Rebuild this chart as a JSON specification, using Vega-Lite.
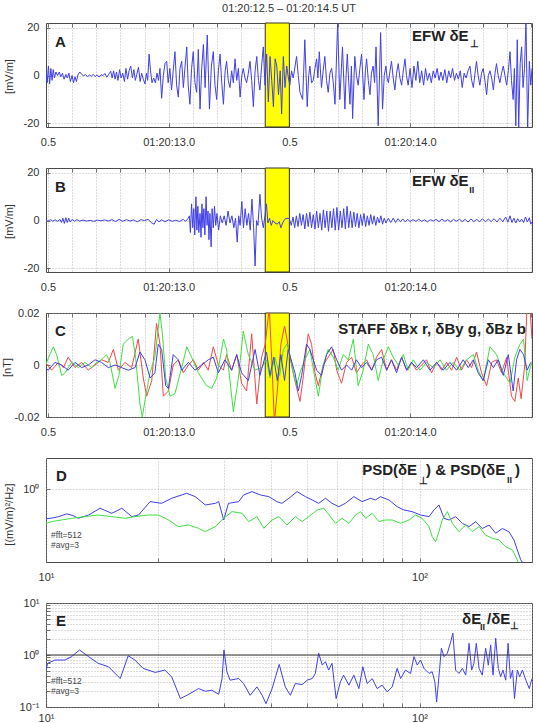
{
"$schema": "https://vega.github.io/schema/vega-lite/v6.json",
"padding": {"left": 0, "top": 2, "right": 0, "bottom": 0},
"background": "white",
"spacing": 41,
"bounds": "flush",
"resolve": {"scale": {"color": "independent"}},
"config": {
 "font": "Liberation Sans",
 "view": {"stroke": "#4a4a4a", "strokeWidth": 1},
 "axis": {"domain": false, "tickColor": "#555", "tickSize": -4, "tickWidth": 0.8, "gridColor": "#aaa", "gridDash": [1,2], "gridWidth": 0.8, "labelFont": "Liberation Sans", "labelFontSize": 11, "labelColor": "#333", "labelFlush": false, "labelOverlap": false, "titleFont": "Liberation Sans", "titleFontSize": 11, "titleFontWeight": "normal", "titleColor": "#333"},
 "axisX": {"labelPadding": 13},
 "axisY": {"labelPadding": 11},
 "title": {"font": "Liberation Sans"}
},
"datasets": {
 "one": [{}],
 "a": [
{"t":12.492,"v":2},{"t":12.497,"v":-3},{"t":12.502,"v":4},{"t":12.507,"v":-3.5},{"t":12.512,"v":3},{"t":12.517,"v":-2},{"t":12.522,"v":2.5},{"t":12.527,"v":-1},{"t":12.533,"v":1.5},{"t":12.54,"v":0},{"t":12.547,"v":1.5},{"t":12.553,"v":-0.5},{"t":12.56,"v":1},{"t":12.567,"v":-1.5},{"t":12.574,"v":0.5},{"t":12.58,"v":-1},{"t":12.587,"v":1},{"t":12.593,"v":-2.5},{"t":12.6,"v":0},{"t":12.606,"v":-3},{"t":12.612,"v":-0.5},{"t":12.618,"v":-2.5},{"t":12.625,"v":0.5},{"t":12.632,"v":1.5},{"t":12.64,"v":0.5},{"t":12.648,"v":0},{"t":12.656,"v":0.4},{"t":12.664,"v":-0.4},{"t":12.672,"v":0.2},{"t":12.68,"v":-0.2},{"t":12.688,"v":0.5},{"t":12.696,"v":-0.4},{"t":12.704,"v":0.3},{"t":12.712,"v":-0.6},{"t":12.72,"v":0.4},{"t":12.728,"v":0},{"t":12.736,"v":0.9},{"t":12.744,"v":-0.7},{"t":12.752,"v":0.6},{"t":12.76,"v":1.8},{"t":12.766,"v":-1},{"t":12.772,"v":2},{"t":12.778,"v":-1.5},{"t":12.784,"v":1.5},{"t":12.79,"v":-2},{"t":12.797,"v":2.5},{"t":12.803,"v":-1},{"t":12.81,"v":1},{"t":12.817,"v":-2.5},{"t":12.823,"v":3},{"t":12.83,"v":-1.5},{"t":12.836,"v":2},{"t":12.843,"v":4},{"t":12.85,"v":-1},{"t":12.856,"v":2.5},{"t":12.862,"v":-2},{"t":12.868,"v":0.5},{"t":12.875,"v":3.5},{"t":12.882,"v":-2.5},{"t":12.888,"v":1},
{"t":12.895,"v":-1.5},{"t":12.902,"v":-3.5},{"t":12.908,"v":1},{"t":12.913,"v":-2},{"t":12.919,"v":9},{"t":12.925,"v":2},{"t":12.931,"v":-3},{"t":12.938,"v":-1},{"t":12.945,"v":-3},{"t":12.952,"v":1},{"t":12.958,"v":-2},{"t":12.964,"v":3},{"t":12.971,"v":-9.5},{"t":12.978,"v":0},{"t":12.985,"v":5},{"t":12.992,"v":6},{"t":12.998,"v":-3},{"t":13.005,"v":3},{"t":13.012,"v":-6},{"t":13.019,"v":2},{"t":13.026,"v":10},{"t":13.033,"v":-4},{"t":13.04,"v":-9},{"t":13.047,"v":3},{"t":13.054,"v":6},{"t":13.061,"v":-5},{"t":13.068,"v":4},{"t":13.075,"v":12},{"t":13.081,"v":-4},{"t":13.088,"v":-12},{"t":13.095,"v":3},{"t":13.102,"v":10},{"t":13.109,"v":-3},{"t":13.116,"v":-7},{"t":13.123,"v":11},{"t":13.13,"v":-14},{"t":13.137,"v":3},{"t":13.144,"v":13},{"t":13.151,"v":-5},{"t":13.16,"v":17},{"t":13.169,"v":-14},{"t":13.177,"v":4},{"t":13.185,"v":10},{"t":13.192,"v":-4},{"t":13.199,"v":-10},{"t":13.206,"v":2},{"t":13.213,"v":9},{"t":13.22,"v":-3},{"t":13.227,"v":-12},{"t":13.234,"v":2},{"t":13.24,"v":6},{"t":13.247,"v":-2},{"t":13.254,"v":-5},{"t":13.261,"v":2},{"t":13.268,"v":-3},{"t":13.275,"v":7},{"t":13.282,"v":-2},{"t":13.289,"v":3},{"t":13.296,"v":-9},{"t":13.303,"v":0},{"t":13.309,"v":3},{"t":13.316,"v":-1},{"t":13.323,"v":-3},{"t":13.33,"v":1},{"t":13.337,"v":6},{"t":13.344,"v":-2},{"t":13.351,"v":-13},{"t":13.358,"v":2},{"t":13.365,"v":8},{"t":13.372,"v":-2},{"t":13.378,"v":-6},{"t":13.385,"v":4},{"t":13.392,"v":12},{"t":13.399,"v":-4},
{"t":13.406,"v":9},{"t":13.413,"v":-11},{"t":13.42,"v":8},{"t":13.427,"v":-2},{"t":13.434,"v":-13},{"t":13.441,"v":7},{"t":13.448,"v":4},{"t":13.455,"v":-8},{"t":13.462,"v":2},{"t":13.468,"v":-16},{"t":13.475,"v":8},{"t":13.482,"v":-5},{"t":13.489,"v":4},{"t":13.496,"v":-1},
{"t":13.502,"v":-4},{"t":13.509,"v":2},{"t":13.516,"v":-1},{"t":13.53,"v":8},{"t":13.537,"v":0},{"t":13.544,"v":-7},{"t":13.555,"v":-10},{"t":13.564,"v":15},{"t":13.574,"v":-13},{"t":13.58,"v":0},{"t":13.585,"v":4},{"t":13.592,"v":-3},{"t":13.599,"v":-2},{"t":13.606,"v":3},{"t":13.613,"v":7},{"t":13.618,"v":-1},{"t":13.624,"v":10},{"t":13.633,"v":-5},{"t":13.64,"v":2},{"t":13.647,"v":8},{"t":13.654,"v":-2},{"t":13.661,"v":-7},{"t":13.668,"v":1},{"t":13.675,"v":3},{"t":13.682,"v":-3},{"t":13.689,"v":-12},{"t":13.7,"v":22},{"t":13.709,"v":-10},{"t":13.715,"v":2},{"t":13.72,"v":12},{"t":13.73,"v":-14},{"t":13.735,"v":0},{"t":13.74,"v":9},{"t":13.746,"v":-3},{"t":13.751,"v":-12},{"t":13.757,"v":4},{"t":13.762,"v":-18},{"t":13.771,"v":8},{"t":13.778,"v":0},{"t":13.785,"v":-4},{"t":13.792,"v":3},{"t":13.799,"v":9},{"t":13.804,"v":0},{"t":13.809,"v":-10},{"t":13.815,"v":2},{"t":13.82,"v":7},{"t":13.827,"v":-2},{"t":13.834,"v":-8},{"t":13.84,"v":1},{"t":13.847,"v":4},{"t":13.853,"v":-3},{"t":13.859,"v":12},{"t":13.868,"v":-21},{"t":13.878,"v":18},{"t":13.886,"v":-14},{"t":13.893,"v":0},{"t":13.9,"v":4},{"t":13.905,"v":-1},{"t":13.91,"v":-3},{"t":13.917,"v":2},{"t":13.923,"v":6},{"t":13.93,"v":-1},{"t":13.937,"v":-6},{"t":13.944,"v":1},{"t":13.951,"v":5},{"t":13.958,"v":-1},{"t":13.965,"v":-4},{"t":13.972,"v":2},{"t":13.979,"v":7},{"t":13.985,"v":0},{"t":13.992,"v":-4},
{"t":14.0,"v":3},{"t":14.008,"v":-5},{"t":14.016,"v":4},{"t":14.024,"v":-2},{"t":14.032,"v":6},{"t":14.04,"v":-3},{"t":14.048,"v":2},{"t":14.056,"v":-4},{"t":14.064,"v":3},{"t":14.072,"v":-2},{"t":14.08,"v":1},{"t":14.088,"v":-3},{"t":14.096,"v":2},{"t":14.104,"v":-1},{"t":14.112,"v":3},{"t":14.12,"v":-2},{"t":14.128,"v":1.5},{"t":14.136,"v":-2},{"t":14.144,"v":2.5},{"t":14.152,"v":-3},{"t":14.16,"v":2},{"t":14.168,"v":-1},{"t":14.176,"v":3},{"t":14.184,"v":-2},{"t":14.192,"v":1},{"t":14.2,"v":-1.5},{"t":14.208,"v":2},{"t":14.216,"v":-5},{"t":14.224,"v":1},{"t":14.232,"v":-1},{"t":14.24,"v":2},{"t":14.248,"v":4},{"t":14.255,"v":-2},{"t":14.262,"v":-5},{"t":14.269,"v":1},{"t":14.275,"v":6},{"t":14.282,"v":0},{"t":14.289,"v":-4},{"t":14.296,"v":1},{"t":14.303,"v":3},{"t":14.31,"v":-2},{"t":14.317,"v":-8},{"t":14.324,"v":0},{"t":14.331,"v":2},{"t":14.338,"v":-1},{"t":14.345,"v":-6},{"t":14.352,"v":1},{"t":14.358,"v":5},{"t":14.365,"v":0},{"t":14.372,"v":-3},{"t":14.379,"v":1},{"t":14.386,"v":4},{"t":14.393,"v":0},{"t":14.4,"v":-4},{"t":14.407,"v":2},{"t":14.414,"v":10},{"t":14.42,"v":-2},{"t":14.427,"v":-10},{"t":14.432,"v":3},{"t":14.438,"v":-21},{"t":14.444,"v":15},{"t":14.45,"v":-22},{"t":14.456,"v":5},{"t":14.462,"v":12},{"t":14.468,"v":-5},{"t":14.474,"v":3},{"t":14.48,"v":23},{"t":14.487,"v":-23},{"t":14.494,"v":6},{"t":14.5,"v":-4},{"t":14.505,"v":3}
 ],
 "b": [
{"t":12.492,"v":0.3},{"t":12.5,"v":-0.3},{"t":12.51,"v":0.4},{"t":12.52,"v":-0.2},{"t":12.53,"v":0.3},{"t":12.54,"v":-0.3},{"t":12.55,"v":0.5},{"t":12.556,"v":-0.8},{"t":12.562,"v":1},{"t":12.568,"v":-1.2},{"t":12.574,"v":1.2},{"t":12.58,"v":-0.8},{"t":12.586,"v":1},{"t":12.592,"v":-0.6},{"t":12.6,"v":0.5},{"t":12.61,"v":-0.3},{"t":12.62,"v":0.4},{"t":12.63,"v":-0.2},{"t":12.645,"v":0.2},{"t":12.66,"v":-0.2},{"t":12.675,"v":0.1},{"t":12.69,"v":-0.3},{"t":12.705,"v":0.2},{"t":12.72,"v":-0.1},{"t":12.735,"v":0.3},{"t":12.75,"v":-0.2},{"t":12.765,"v":0.4},{"t":12.78,"v":-0.4},{"t":12.795,"v":0.5},{"t":12.81,"v":-0.3},{"t":12.825,"v":0.4},{"t":12.84,"v":-0.2},{"t":12.855,"v":0.3},{"t":12.87,"v":-0.5},{"t":12.885,"v":0.4},{"t":12.9,"v":0},{"t":12.915,"v":0.5},{"t":12.93,"v":-1},{"t":12.94,"v":-1.5},{"t":12.95,"v":0.5},{"t":12.96,"v":-0.5},{"t":12.97,"v":0.3},{"t":12.985,"v":-0.4},{"t":13.0,"v":0.3},{"t":13.015,"v":-0.3},{"t":13.03,"v":0.2},{"t":13.045,"v":-0.4},{"t":13.06,"v":0.5},{"t":13.07,"v":-0.3},{"t":13.08,"v":0.8},
{"t":13.086,"v":2},{"t":13.09,"v":-5},{"t":13.095,"v":7},{"t":13.1,"v":-3},{"t":13.104,"v":5},{"t":13.108,"v":-6},{"t":13.113,"v":10},{"t":13.117,"v":-4},{"t":13.121,"v":6},{"t":13.125,"v":-5},{"t":13.13,"v":3},{"t":13.134,"v":-7},{"t":13.138,"v":7},{"t":13.142,"v":-3},{"t":13.146,"v":5},{"t":13.15,"v":-6},{"t":13.155,"v":10},{"t":13.159,"v":-2},{"t":13.163,"v":4},{"t":13.167,"v":-8},{"t":13.171,"v":3},{"t":13.176,"v":-11},{"t":13.18,"v":5},{"t":13.185,"v":-3},{"t":13.19,"v":6},{"t":13.195,"v":-2},{"t":13.2,"v":3},{"t":13.207,"v":-4},{"t":13.214,"v":2},{"t":13.222,"v":-1},{"t":13.23,"v":2},{"t":13.238,"v":-2},{"t":13.246,"v":4},{"t":13.254,"v":-1},{"t":13.262,"v":2},{"t":13.27,"v":-3},{"t":13.277,"v":1},{"t":13.284,"v":-9},{"t":13.29,"v":2},{"t":13.296,"v":-2},{"t":13.303,"v":8},{"t":13.31,"v":-3},{"t":13.317,"v":5},{"t":13.324,"v":-2},{"t":13.331,"v":3},{"t":13.338,"v":-4},{"t":13.345,"v":9},{"t":13.352,"v":-3},{"t":13.358,"v":-19},{"t":13.364,"v":0},{"t":13.37,"v":-2},{"t":13.378,"v":11},{"t":13.385,"v":1},{"t":13.392,"v":-3},{"t":13.399,"v":2},{"t":13.405,"v":7},{"t":13.411,"v":-1},{"t":13.418,"v":1},{"t":13.425,"v":-2},{"t":13.432,"v":0},{"t":13.44,"v":-1},{"t":13.45,"v":-1.5},{"t":13.458,"v":-0.5},{"t":13.465,"v":-3},{"t":13.472,"v":-1},{"t":13.48,"v":0.5},{"t":13.49,"v":1},{"t":13.5,"v":0.8},
{"t":13.508,"v":-2},{"t":13.515,"v":1.5},{"t":13.522,"v":-3},{"t":13.529,"v":2},{"t":13.536,"v":-2.5},{"t":13.543,"v":3},{"t":13.55,"v":-2},{"t":13.557,"v":2.5},{"t":13.564,"v":-3.5},{"t":13.571,"v":3},{"t":13.578,"v":-2.5},{"t":13.585,"v":3.5},{"t":13.592,"v":-3},{"t":13.599,"v":2.5},{"t":13.606,"v":-3.5},{"t":13.613,"v":4},{"t":13.62,"v":-3},{"t":13.627,"v":3},{"t":13.634,"v":-4},{"t":13.641,"v":4.5},{"t":13.648,"v":-3},{"t":13.655,"v":4},{"t":13.662,"v":-4.5},{"t":13.669,"v":4},{"t":13.676,"v":-3},{"t":13.683,"v":5},{"t":13.69,"v":-4},{"t":13.697,"v":5.5},{"t":13.704,"v":-4},{"t":13.711,"v":4},{"t":13.718,"v":-3},{"t":13.725,"v":5},{"t":13.732,"v":-3.5},{"t":13.739,"v":6},{"t":13.746,"v":-3},{"t":13.753,"v":4},{"t":13.76,"v":-3},{"t":13.767,"v":3.5},{"t":13.774,"v":-2.5},{"t":13.781,"v":3},{"t":13.788,"v":-3},{"t":13.795,"v":2.5},{"t":13.802,"v":-2},{"t":13.809,"v":3},{"t":13.816,"v":-2.5},{"t":13.823,"v":2},{"t":13.83,"v":-2},{"t":13.837,"v":2.5},{"t":13.844,"v":-1.5},{"t":13.851,"v":2},{"t":13.858,"v":-2},{"t":13.865,"v":1.5},{"t":13.872,"v":-1},{"t":13.879,"v":2},{"t":13.886,"v":-1.5},{"t":13.893,"v":1},{"t":13.9,"v":-1},{"t":13.91,"v":1},{"t":13.92,"v":-0.8},{"t":13.93,"v":1},{"t":13.94,"v":-0.8},{"t":13.95,"v":0.8},{"t":13.96,"v":-0.5},{"t":13.97,"v":0.7},{"t":13.98,"v":-0.5},{"t":13.99,"v":0.5},{"t":14.0,"v":-0.4},{"t":14.012,"v":0.4},{"t":14.024,"v":-0.3},{"t":14.036,"v":0.5},{"t":14.048,"v":-0.3},{"t":14.06,"v":0.3},{"t":14.072,"v":-0.5},{"t":14.084,"v":0.4},{"t":14.096,"v":-0.2},{"t":14.108,"v":0.5},{"t":14.12,"v":-0.4},{"t":14.132,"v":0.6},{"t":14.144,"v":-0.3},{"t":14.156,"v":0.4},{"t":14.168,"v":-0.5},{"t":14.18,"v":0.5},{"t":14.192,"v":-0.3},{"t":14.204,"v":0.6},{"t":14.216,"v":-0.4},{"t":14.228,"v":0.5},{"t":14.24,"v":-0.6},{"t":14.252,"v":0.7},{"t":14.264,"v":-0.4},{"t":14.276,"v":0.5},{"t":14.288,"v":-0.5},{"t":14.3,"v":0.8},{"t":14.312,"v":-0.5},{"t":14.324,"v":0.6},{"t":14.336,"v":-0.4},{"t":14.348,"v":0.8},{"t":14.36,"v":-0.6},{"t":14.372,"v":1},{"t":14.384,"v":-0.5},{"t":14.396,"v":1.5},{"t":14.405,"v":-0.6},{"t":14.414,"v":2},{"t":14.422,"v":-0.8},{"t":14.43,"v":1},{"t":14.438,"v":-1},{"t":14.446,"v":0.8},{"t":14.454,"v":-0.5},{"t":14.462,"v":0.6},{"t":14.47,"v":-0.8},{"t":14.478,"v":1.5},{"t":14.486,"v":-0.6},{"t":14.494,"v":1.2},{"t":14.5,"v":-1.5},{"t":14.505,"v":-0.5}
 ],
 "c": [
{"t":12.49,"s":"x","v":0.001},{"t":12.515,"s":"x","v":-0.002},{"t":12.543,"s":"x","v":0.001},{"t":12.564,"s":"x","v":-0.001},{"t":12.584,"s":"x","v":0.003},{"t":12.612,"s":"x","v":-0.001},{"t":12.64,"s":"x","v":0.001},{"t":12.667,"s":"x","v":-0.002},{"t":12.695,"s":"x","v":0},{"t":12.722,"s":"x","v":0.002},{"t":12.75,"s":"x","v":0.001},{"t":12.771,"s":"x","v":0.006},{"t":12.792,"s":"x","v":-0.002},{"t":12.819,"s":"x","v":0.001},{"t":12.847,"s":"x","v":-0.001},{"t":12.874,"s":"x","v":0.01},{"t":12.895,"s":"x","v":-0.005},{"t":12.909,"s":"x","v":-0.012},{"t":12.93,"s":"x","v":-0.006},{"t":12.95,"s":"x","v":0.016},{"t":12.964,"s":"x","v":0.008},{"t":12.978,"s":"x","v":-0.012},{"t":12.999,"s":"x","v":-0.01},{"t":13.019,"s":"x","v":0},{"t":13.04,"s":"x","v":0.002},{"t":13.061,"s":"x","v":-0.003},{"t":13.082,"s":"x","v":0},{"t":13.102,"s":"x","v":0.002},{"t":13.123,"s":"x","v":-0.002},{"t":13.144,"s":"x","v":0.001},{"t":13.164,"s":"x","v":-0.002},{"t":13.185,"s":"x","v":0.007},{"t":13.206,"s":"x","v":0},{"t":13.227,"s":"x","v":-0.002},{"t":13.24,"s":"x","v":0.004},{"t":13.261,"s":"x","v":-0.002},{"t":13.282,"s":"x","v":0.004},{"t":13.302,"s":"x","v":-0.007},{"t":13.323,"s":"x","v":-0.01},{"t":13.344,"s":"x","v":0.012},{"t":13.365,"s":"x","v":-0.015},{"t":13.385,"s":"x","v":0.003},{"t":13.4,"s":"x","v":0.008},{"t":13.417,"s":"x","v":0.022},{"t":13.428,"s":"x","v":0},{"t":13.438,"s":"x","v":-0.022},{"t":13.45,"s":"x","v":-0.01},{"t":13.465,"s":"x","v":0.008},{"t":13.48,"s":"x","v":0.015},{"t":13.49,"s":"x","v":0.01},{"t":13.5,"s":"x","v":0.004},{"t":13.523,"s":"x","v":-0.006},{"t":13.544,"s":"x","v":-0.014},{"t":13.557,"s":"x","v":-0.005},{"t":13.578,"s":"x","v":0.012},{"t":13.592,"s":"x","v":0.008},{"t":13.606,"s":"x","v":-0.003},{"t":13.62,"s":"x","v":-0.008},{"t":13.64,"s":"x","v":0},{"t":13.661,"s":"x","v":0.003},{"t":13.682,"s":"x","v":0.006},{"t":13.696,"s":"x","v":-0.002},{"t":13.716,"s":"x","v":-0.007},{"t":13.737,"s":"x","v":0.001},{"t":13.758,"s":"x","v":0.003},{"t":13.778,"s":"x","v":-0.003},{"t":13.799,"s":"x","v":0},{"t":13.82,"s":"x","v":0.002},{"t":13.841,"s":"x","v":-0.002},{"t":13.861,"s":"x","v":0.003},{"t":13.882,"s":"x","v":0.006},{"t":13.903,"s":"x","v":-0.002},{"t":13.923,"s":"x","v":0.002},{"t":13.944,"s":"x","v":-0.002},{"t":13.965,"s":"x","v":0.003},{"t":13.986,"s":"x","v":-0.002},{"t":14.006,"s":"x","v":0.001},{"t":14.027,"s":"x","v":-0.002},{"t":14.048,"s":"x","v":0},{"t":14.068,"s":"x","v":0.002},{"t":14.089,"s":"x","v":-0.003},{"t":14.11,"s":"x","v":0.001},{"t":14.131,"s":"x","v":-0.002},{"t":14.151,"s":"x","v":0.001},{"t":14.172,"s":"x","v":-0.002},{"t":14.193,"s":"x","v":0.003},{"t":14.213,"s":"x","v":-0.002},{"t":14.234,"s":"x","v":0.002},{"t":14.255,"s":"x","v":-0.001},{"t":14.275,"s":"x","v":0.005},{"t":14.296,"s":"x","v":-0.003},{"t":14.317,"s":"x","v":-0.008},{"t":14.338,"s":"x","v":0.001},{"t":14.358,"s":"x","v":0.002},{"t":14.379,"s":"x","v":-0.003},{"t":14.4,"s":"x","v":0.003},{"t":14.42,"s":"x","v":-0.012},{"t":14.434,"s":"x","v":-0.014},{"t":14.448,"s":"x","v":-0.005},{"t":14.46,"s":"x","v":-0.013},{"t":14.475,"s":"x","v":0},{"t":14.485,"s":"x","v":0.024},{"t":14.495,"s":"x","v":0.024},{"t":14.505,"s":"x","v":0.01},
{"t":12.49,"s":"y","v":0},{"t":12.522,"s":"y","v":0.007},{"t":12.536,"s":"y","v":0.004},{"t":12.557,"s":"y","v":-0.004},{"t":12.571,"s":"y","v":-0.003},{"t":12.598,"s":"y","v":0.001},{"t":12.626,"s":"y","v":-0.001},{"t":12.653,"s":"y","v":0.001},{"t":12.681,"s":"y","v":-0.001},{"t":12.702,"s":"y","v":0.001},{"t":12.722,"s":"y","v":0.002},{"t":12.743,"s":"y","v":0.004},{"t":12.757,"s":"y","v":0.001},{"t":12.778,"s":"y","v":-0.009},{"t":12.794,"s":"y","v":-0.004},{"t":12.812,"s":"y","v":0.008},{"t":12.833,"s":"y","v":0.01},{"t":12.85,"s":"y","v":0.011},{"t":12.863,"s":"y","v":0.003},{"t":12.881,"s":"y","v":-0.015},{"t":12.891,"s":"y","v":-0.02},{"t":12.905,"s":"y","v":-0.012},{"t":12.923,"s":"y","v":-0.003},{"t":12.943,"s":"y","v":0.003},{"t":12.964,"s":"y","v":0.02},{"t":12.974,"s":"y","v":0.012},{"t":12.988,"s":"y","v":-0.005},{"t":13.006,"s":"y","v":-0.012},{"t":13.026,"s":"y","v":-0.011},{"t":13.054,"s":"y","v":-0.001},{"t":13.075,"s":"y","v":0.007},{"t":13.095,"s":"y","v":0.003},{"t":13.123,"s":"y","v":-0.003},{"t":13.157,"s":"y","v":-0.008},{"t":13.178,"s":"y","v":-0.009},{"t":13.199,"s":"y","v":-0.005},{"t":13.227,"s":"y","v":0.01},{"t":13.24,"s":"y","v":0.006},{"t":13.268,"s":"y","v":-0.018},{"t":13.289,"s":"y","v":-0.005},{"t":13.309,"s":"y","v":0.013},{"t":13.33,"s":"y","v":0.004},{"t":13.358,"s":"y","v":-0.002},{"t":13.385,"s":"y","v":-0.001},{"t":13.405,"s":"y","v":0.002},{"t":13.42,"s":"y","v":-0.005},{"t":13.44,"s":"y","v":0.003},{"t":13.46,"s":"y","v":-0.004},{"t":13.475,"s":"y","v":0.006},{"t":13.49,"s":"y","v":0.008},{"t":13.5,"s":"y","v":0.005},{"t":13.516,"s":"y","v":-0.003},{"t":13.53,"s":"y","v":-0.008},{"t":13.544,"s":"y","v":-0.003},{"t":13.564,"s":"y","v":0.002},{"t":13.585,"s":"y","v":0.006},{"t":13.606,"s":"y","v":-0.005},{"t":13.62,"s":"y","v":-0.012},{"t":13.64,"s":"y","v":0},{"t":13.661,"s":"y","v":0.006},{"t":13.682,"s":"y","v":0.003},{"t":13.702,"s":"y","v":-0.002},{"t":13.723,"s":"y","v":0.004},{"t":13.744,"s":"y","v":0.002},{"t":13.765,"s":"y","v":0.01},{"t":13.785,"s":"y","v":-0.008},{"t":13.806,"s":"y","v":-0.002},{"t":13.827,"s":"y","v":0.008},{"t":13.847,"s":"y","v":0.004},{"t":13.868,"s":"y","v":-0.006},{"t":13.889,"s":"y","v":0.002},{"t":13.91,"s":"y","v":0.007},{"t":13.93,"s":"y","v":0.003},{"t":13.951,"s":"y","v":0},{"t":13.972,"s":"y","v":0.004},{"t":13.992,"s":"y","v":-0.002},{"t":14.013,"s":"y","v":0.002},{"t":14.041,"s":"y","v":-0.002},{"t":14.068,"s":"y","v":0.001},{"t":14.096,"s":"y","v":-0.001},{"t":14.124,"s":"y","v":0.002},{"t":14.151,"s":"y","v":-0.002},{"t":14.179,"s":"y","v":0.001},{"t":14.206,"s":"y","v":-0.002},{"t":14.234,"s":"y","v":0.002},{"t":14.262,"s":"y","v":0.004},{"t":14.282,"s":"y","v":-0.002},{"t":14.303,"s":"y","v":-0.006},{"t":14.331,"s":"y","v":0.007},{"t":14.358,"s":"y","v":0.004},{"t":14.386,"s":"y","v":-0.003},{"t":14.414,"s":"y","v":-0.007},{"t":14.434,"s":"y","v":0.003},{"t":14.455,"s":"y","v":0.008},{"t":14.47,"s":"y","v":0.01},{"t":14.485,"s":"y","v":-0.006},{"t":14.495,"s":"y","v":-0.002},{"t":14.505,"s":"y","v":0.001},
{"t":12.49,"s":"z","v":-0.001},{"t":12.501,"s":"z","v":-0.002},{"t":12.529,"s":"z","v":0.001},{"t":12.557,"s":"z","v":0},{"t":12.584,"s":"z","v":-0.002},{"t":12.612,"s":"z","v":0.001},{"t":12.64,"s":"z","v":-0.001},{"t":12.667,"s":"z","v":0},{"t":12.695,"s":"z","v":0.002},{"t":12.722,"s":"z","v":0.001},{"t":12.75,"s":"z","v":-0.001},{"t":12.778,"s":"z","v":0},{"t":12.805,"s":"z","v":-0.001},{"t":12.833,"s":"z","v":-0.002},{"t":12.861,"s":"z","v":-0.001},{"t":12.881,"s":"z","v":0.005},{"t":12.902,"s":"z","v":0.002},{"t":12.923,"s":"z","v":-0.005},{"t":12.943,"s":"z","v":-0.003},{"t":12.957,"s":"z","v":0.008},{"t":12.971,"s":"z","v":0.006},{"t":12.988,"s":"z","v":-0.008},{"t":12.999,"s":"z","v":-0.009},{"t":13.019,"s":"z","v":0.004},{"t":13.04,"s":"z","v":0.002},{"t":13.054,"s":"z","v":-0.002},{"t":13.082,"s":"z","v":0.001},{"t":13.109,"s":"z","v":-0.002},{"t":13.137,"s":"z","v":0},{"t":13.164,"s":"z","v":0.002},{"t":13.185,"s":"z","v":0.003},{"t":13.206,"s":"z","v":-0.003},{"t":13.233,"s":"z","v":0.002},{"t":13.261,"s":"z","v":-0.002},{"t":13.282,"s":"z","v":0.004},{"t":13.302,"s":"z","v":-0.003},{"t":13.33,"s":"z","v":-0.006},{"t":13.358,"s":"z","v":0.006},{"t":13.378,"s":"z","v":-0.004},{"t":13.405,"s":"z","v":0.005},{"t":13.42,"s":"z","v":-0.004},{"t":13.435,"s":"z","v":0.003},{"t":13.45,"s":"z","v":-0.006},{"t":13.465,"s":"z","v":0.004},{"t":13.48,"s":"z","v":-0.006},{"t":13.495,"s":"z","v":0.006},{"t":13.523,"s":"z","v":-0.003},{"t":13.537,"s":"z","v":-0.01},{"t":13.551,"s":"z","v":-0.004},{"t":13.571,"s":"z","v":0.008},{"t":13.585,"s":"z","v":0.006},{"t":13.599,"s":"z","v":0.002},{"t":13.613,"s":"z","v":-0.002},{"t":13.633,"s":"z","v":-0.004},{"t":13.654,"s":"z","v":0.004},{"t":13.675,"s":"z","v":0.007},{"t":13.696,"s":"z","v":0.002},{"t":13.716,"s":"z","v":-0.002},{"t":13.737,"s":"z","v":0},{"t":13.758,"s":"z","v":-0.002},{"t":13.778,"s":"z","v":0.002},{"t":13.799,"s":"z","v":-0.001},{"t":13.82,"s":"z","v":0.001},{"t":13.841,"s":"z","v":-0.002},{"t":13.861,"s":"z","v":0.002},{"t":13.882,"s":"z","v":0.003},{"t":13.903,"s":"z","v":-0.002},{"t":13.923,"s":"z","v":0.002},{"t":13.944,"s":"z","v":-0.003},{"t":13.965,"s":"z","v":0.003},{"t":13.986,"s":"z","v":-0.002},{"t":14.006,"s":"z","v":0.001},{"t":14.027,"s":"z","v":-0.001},{"t":14.055,"s":"z","v":0.002},{"t":14.082,"s":"z","v":-0.002},{"t":14.11,"s":"z","v":0.001},{"t":14.137,"s":"z","v":-0.002},{"t":14.165,"s":"z","v":0.001},{"t":14.193,"s":"z","v":-0.002},{"t":14.22,"s":"z","v":0.002},{"t":14.241,"s":"z","v":-0.001},{"t":14.262,"s":"z","v":0.002},{"t":14.282,"s":"z","v":-0.003},{"t":14.303,"s":"z","v":-0.006},{"t":14.324,"s":"z","v":0.002},{"t":14.345,"s":"z","v":-0.001},{"t":14.365,"s":"z","v":0.002},{"t":14.386,"s":"z","v":-0.004},{"t":14.407,"s":"z","v":0.004},{"t":14.427,"s":"z","v":-0.01},{"t":14.441,"s":"z","v":0.002},{"t":14.455,"s":"z","v":0.006},{"t":14.47,"s":"z","v":0.004},{"t":14.485,"s":"z","v":-0.002},{"t":14.5,"s":"z","v":0.001}
 ],
 "d": [
{"f":10.0,"s":"a","v":0.52},{"f":10.4,"s":"a","v":0.53},{"f":10.8,"s":"a","v":0.546},{"f":11.36,"s":"a","v":0.58},{"f":11.8,"s":"a","v":0.56},{"f":12.2,"s":"a","v":0.526},{"f":13.0,"s":"a","v":0.566},{"f":13.96,"s":"a","v":0.657},{"f":15.0,"s":"a","v":0.588},{"f":15.96,"s":"a","v":0.657},{"f":16.97,"s":"a","v":0.546},{"f":17.69,"s":"a","v":0.566},{"f":19.0,"s":"a","v":0.761},{"f":20.4,"s":"a","v":0.733},{"f":21.7,"s":"a","v":0.82},{"f":23.8,"s":"a","v":0.915},{"f":25.1,"s":"a","v":0.85},{"f":26.7,"s":"a","v":0.707},{"f":28.4,"s":"a","v":0.733},{"f":29.0,"s":"a","v":0.761},{"f":29.9,"s":"a","v":0.507},{"f":30.8,"s":"a","v":0.733},{"f":32.8,"s":"a","v":0.761},{"f":33.8,"s":"a","v":0.882},{"f":35.6,"s":"a","v":0.95},{"f":37.5,"s":"a","v":0.882},{"f":39.5,"s":"a","v":0.85},{"f":41.5,"s":"a","v":0.761},{"f":42.8,"s":"a","v":0.733},{"f":44.7,"s":"a","v":0.82},{"f":47.0,"s":"a","v":0.95},{"f":49.5,"s":"a","v":0.85},{"f":51.6,"s":"a","v":0.79},{"f":53.7,"s":"a","v":0.733},{"f":56.0,"s":"a","v":0.82},{"f":58.3,"s":"a","v":0.733},{"f":60.8,"s":"a","v":0.681},{"f":63.3,"s":"a","v":0.733},{"f":66.7,"s":"a","v":0.85},{"f":70.2,"s":"a","v":0.761},{"f":73.9,"s":"a","v":0.82},{"f":76.2,"s":"a","v":0.79},{"f":78.6,"s":"a","v":0.85},{"f":82.8,"s":"a","v":0.79},{"f":87.1,"s":"a","v":0.681},{"f":90.8,"s":"a","v":0.633},{"f":95.5,"s":"a","v":0.61},{"f":100.6,"s":"a","v":0.566},{"f":106,"s":"a","v":0.546},{"f":109.3,"s":"a","v":0.633},{"f":112.7,"s":"a","v":0.707},{"f":116.3,"s":"a","v":0.526},{"f":120,"s":"a","v":0.507},{"f":124.9,"s":"a","v":0.546},{"f":130.2,"s":"a","v":0.471},{"f":135.7,"s":"a","v":0.438},{"f":141.3,"s":"a","v":0.488},{"f":147.2,"s":"a","v":0.42},{"f":153.5,"s":"a","v":0.453},{"f":159.9,"s":"a","v":0.378},{"f":166.6,"s":"a","v":0.42},{"f":173.6,"s":"a","v":0.39},{"f":179,"s":"a","v":0.325},{"f":182.7,"s":"a","v":0.261},{"f":186.6,"s":"a","v":0.21},{"f":190,"s":"a","v":0.19},
{"f":10.0,"s":"b","v":0.471},{"f":10.4,"s":"b","v":0.49},{"f":11.0,"s":"b","v":0.507},{"f":11.7,"s":"b","v":0.526},{"f":12.7,"s":"b","v":0.546},{"f":13.8,"s":"b","v":0.566},{"f":15.0,"s":"b","v":0.546},{"f":16.3,"s":"b","v":0.526},{"f":17.3,"s":"b","v":0.546},{"f":18.8,"s":"b","v":0.566},{"f":20.0,"s":"b","v":0.566},{"f":21.3,"s":"b","v":0.507},{"f":22.6,"s":"b","v":0.438},{"f":24.1,"s":"b","v":0.454},{"f":25.6,"s":"b","v":0.422},{"f":26.7,"s":"b","v":0.392},{"f":28.4,"s":"b","v":0.438},{"f":29.9,"s":"b","v":0.526},{"f":31.5,"s":"b","v":0.61},{"f":33.5,"s":"b","v":0.588},{"f":34.9,"s":"b","v":0.489},{"f":36.7,"s":"b","v":0.546},{"f":38.3,"s":"b","v":0.422},{"f":40.3,"s":"b","v":0.507},{"f":42.0,"s":"b","v":0.546},{"f":44.2,"s":"b","v":0.454},{"f":46.5,"s":"b","v":0.546},{"f":48.5,"s":"b","v":0.489},{"f":50.5,"s":"b","v":0.546},{"f":53.2,"s":"b","v":0.633},{"f":55.4,"s":"b","v":0.657},{"f":57.7,"s":"b","v":0.546},{"f":59.6,"s":"b","v":0.471},{"f":62.0,"s":"b","v":0.526},{"f":64.7,"s":"b","v":0.471},{"f":67.4,"s":"b","v":0.566},{"f":69.5,"s":"b","v":0.61},{"f":71.7,"s":"b","v":0.526},{"f":74.7,"s":"b","v":0.588},{"f":77.8,"s":"b","v":0.489},{"f":81.1,"s":"b","v":0.507},{"f":84.5,"s":"b","v":0.507},{"f":89.0,"s":"b","v":0.471},{"f":93.7,"s":"b","v":0.507},{"f":97.6,"s":"b","v":0.566},{"f":101.6,"s":"b","v":0.526},{"f":106,"s":"b","v":0.438},{"f":108.1,"s":"b","v":0.35},{"f":110.4,"s":"b","v":0.314},{"f":112.7,"s":"b","v":0.392},{"f":115,"s":"b","v":0.507},{"f":118.7,"s":"b","v":0.61},{"f":122.4,"s":"b","v":0.471},{"f":127.5,"s":"b","v":0.392},{"f":132.9,"s":"b","v":0.454},{"f":138.4,"s":"b","v":0.392},{"f":144.3,"s":"b","v":0.438},{"f":150.3,"s":"b","v":0.362},{"f":156.6,"s":"b","v":0.338},{"f":163.2,"s":"b","v":0.326},{"f":170.1,"s":"b","v":0.28},{"f":177.3,"s":"b","v":0.261},{"f":182.7,"s":"b","v":0.209},{"f":185,"s":"b","v":0.19}
 ],
 "e": [
{"f":10.0,"v":0.513},{"f":10.1,"v":0.69},{"f":10.57,"v":0.8},{"f":11.24,"v":0.8},{"f":11.7,"v":0.93},{"f":12.3,"v":1.25},{"f":13.0,"v":0.93},{"f":13.8,"v":0.69},{"f":14.7,"v":0.594},{"f":15.8,"v":0.353},{"f":16.6,"v":0.97},{"f":17.3,"v":0.8},{"f":18.2,"v":0.552},{"f":19.6,"v":0.462},{"f":20.8,"v":0.513},{"f":21.7,"v":0.381},{"f":22.9,"v":0.145},{"f":24.3,"v":0.181},{"f":25.6,"v":0.226},{"f":26.7,"v":0.201},{"f":27.8,"v":0.21},{"f":29.0,"v":0.176},{"f":29.6,"v":0.353},{"f":29.95,"v":1.25},{"f":30.5,"v":0.476},{"f":31.1,"v":0.328},{"f":32.8,"v":0.353},{"f":33.8,"v":0.283},{"f":35.2,"v":0.168},{"f":36.7,"v":0.244},{"f":37.9,"v":0.168},{"f":38.8,"v":0.116},{"f":40.3,"v":0.226},{"f":42.1,"v":0.66},{"f":43.7,"v":0.244},{"f":45.1,"v":0.168},{"f":46.5,"v":0.283},{"f":48.5,"v":0.27},{"f":50.0,"v":0.328},{"f":51.6,"v":0.353},{"f":52.6,"v":0.442},{"f":53.7,"v":1.08},{"f":54.9,"v":0.64},{"f":56.0,"v":0.743},{"f":57.1,"v":0.513},{"f":58.3,"v":0.69},{"f":59.8,"v":0.145},{"f":61.4,"v":0.305},{"f":62.6,"v":0.41},{"f":64.7,"v":0.263},{"f":66.7,"v":0.41},{"f":68.8,"v":0.226},{"f":70.5,"v":0.594},{"f":72.4,"v":0.283},{"f":74.7,"v":0.353},{"f":77.0,"v":0.226},{"f":79.4,"v":0.263},{"f":81.9,"v":0.195},{"f":84.5,"v":0.244},{"f":87.1,"v":0.552},{"f":89.0,"v":0.353},{"f":91.7,"v":0.513},{"f":94.6,"v":0.442},{"f":96.6,"v":0.93},{"f":98.6,"v":0.64},{"f":100.6,"v":0.8},{"f":102.8,"v":0.552},{"f":106,"v":0.442},{"f":108.1,"v":0.476},{"f":109.9,"v":0.305},{"f":111.1,"v":0.125},{"f":113.2,"v":0.552},{"f":114.4,"v":1.35},{"f":116.3,"v":0.93},{"f":118.7,"v":1.08},{"f":121.2,"v":1.81},{"f":122.8,"v":2.63},{"f":124.9,"v":0.513},{"f":127.5,"v":0.442},{"f":130.2,"v":0.552},{"f":132.9,"v":0.41},{"f":135.7,"v":1.68},{"f":137.9,"v":0.513},{"f":139.8,"v":0.69},{"f":141.9,"v":1.68},{"f":144.3,"v":0.552},{"f":147.2,"v":0.41},{"f":150.3,"v":1.35},{"f":152.8,"v":0.64},{"f":155,"v":1.56},{"f":157.3,"v":0.41},{"f":159.9,"v":2.1},{"f":162.5,"v":0.552},{"f":164.9,"v":0.381},{"f":167.2,"v":0.513},{"f":170.1,"v":0.328},{"f":172.6,"v":1.68},{"f":175.1,"v":0.353},{"f":177.5,"v":0.513},{"f":179.5,"v":0.145},{"f":182.7,"v":0.513},{"f":185.4,"v":0.381},{"f":188.5,"v":0.513},{"f":192.6,"v":0.328},{"f":196.7,"v":0.226},{"f":200,"v":0.353}
 ]
},
"vconcat": [
 {
  "width": 486, "height": 104,
  "title": {"text": "01:20:12.5 – 01:20:14.5 UT", "fontSize": 11, "fontWeight": "normal", "color": "#333", "offset": 8, "anchor": "middle"},
  "resolve": {"axis": {"x": "independent"}},
  "layer": [
   {"data": {"name": "one"}, "mark": {"type": "rect", "fill": "#ffff00", "stroke": "#333", "strokeWidth": 1},
    "encoding": {"x": {"datum": 13.4, "type": "quantitative", "axis": {"orient": "top", "title": null, "labels": false, "grid": true, "values": [12.5,12.6,12.7,12.8,12.9,13,13.1,13.2,13.3,13.4,13.5,13.6,13.7,13.8,13.9,14,14.1,14.2,14.3,14.4,14.5]}}, "x2": {"datum": 13.5}}},
   {"data": {"name": "a"},
    "mark": {"type": "line", "color": "#4040e8", "strokeWidth": 1, "clip": true},
    "encoding": {
     "x": {"field": "t", "type": "quantitative", "scale": {"domain": [12.492, 14.505], "nice": false, "zero": false},
       "axis": {"title": null, "grid": false, "values": [12.5,13,13.5,14],
         "labelExpr": "datum.value == 13 ? '01:20:13.0' : datum.value == 14 ? '01:20:14.0' : '0.5'"}},
     "y": {"field": "v", "type": "quantitative", "scale": {"domain": [-21.5, 22], "nice": false, "zero": false},
       "axis": {"title": "[mV/m]", "titleX": -37, "titleY": 53, "titleBaseline": "middle", "titleAngle": 270, "grid": true, "values": [-20,-10,0,10,20], "labelExpr": "'' + datum.value"}}
    }},
   {"data": {"name": "one"}, "mark": {"type": "text", "text": "A", "align": "left", "baseline": "alphabetic", "fontSize": 15, "fontWeight": "bold", "color": "#222"},
    "encoding": {"x": {"datum": 12.529, "type": "quantitative", "axis": null}, "y": {"datum": 12, "type": "quantitative"}}},
   {"data": {"name": "one"}, "mark": {"type": "text", "text": "EFW δE", "align": "left", "baseline": "alphabetic", "fontSize": 15, "fontWeight": "bold", "color": "#222"},
    "encoding": {"x": {"datum": 14.008, "type": "quantitative", "axis": null}, "y": {"datum": 14.6, "type": "quantitative"}}},
   {"data": {"name": "one"}, "mark": {"type": "text", "text": "⊥", "align": "left", "baseline": "alphabetic", "fontSize": 10, "fontWeight": "bold", "color": "#222"},
    "encoding": {"x": {"datum": 14.248, "type": "quantitative", "axis": null}, "y": {"datum": 12, "type": "quantitative"}}}
  ]
 },
 {
  "width": 486, "height": 104,
  "resolve": {"axis": {"x": "independent"}},
  "layer": [
   {"data": {"name": "one"}, "mark": {"type": "rect", "fill": "#ffff00", "stroke": "#333", "strokeWidth": 1},
    "encoding": {"x": {"datum": 13.4, "type": "quantitative", "axis": {"orient": "top", "title": null, "labels": false, "grid": true, "values": [12.5,12.6,12.7,12.8,12.9,13,13.1,13.2,13.3,13.4,13.5,13.6,13.7,13.8,13.9,14,14.1,14.2,14.3,14.4,14.5]}}, "x2": {"datum": 13.5}}},
   {"data": {"name": "b"},
    "mark": {"type": "line", "color": "#4040e8", "strokeWidth": 1, "clip": true},
    "encoding": {
     "x": {"field": "t", "type": "quantitative", "scale": {"domain": [12.492, 14.505], "nice": false, "zero": false},
       "axis": {"title": null, "grid": false, "values": [12.5,13,13.5,14],
         "labelExpr": "datum.value == 13 ? '01:20:13.0' : datum.value == 14 ? '01:20:14.0' : '0.5'"}},
     "y": {"field": "v", "type": "quantitative", "scale": {"domain": [-21.5, 22], "nice": false, "zero": false},
       "axis": {"title": "[mV/m]", "titleX": -37, "titleY": 53, "titleBaseline": "middle", "titleAngle": 270, "grid": true, "values": [-20,-10,0,10,20], "labelExpr": "'' + datum.value"}}
    }},
   {"data": {"name": "one"}, "mark": {"type": "text", "text": "B", "align": "left", "baseline": "alphabetic", "fontSize": 15, "fontWeight": "bold", "color": "#222"},
    "encoding": {"x": {"datum": 12.529, "type": "quantitative", "axis": null}, "y": {"datum": 12, "type": "quantitative"}}},
   {"data": {"name": "one"}, "mark": {"type": "text", "text": "EFW δE", "align": "left", "baseline": "alphabetic", "fontSize": 15, "fontWeight": "bold", "color": "#222"},
    "encoding": {"x": {"datum": 14.008, "type": "quantitative", "axis": null}, "y": {"datum": 14.5, "type": "quantitative"}}},
   {"data": {"name": "one"}, "mark": {"type": "text", "text": "II", "align": "left", "baseline": "alphabetic", "fontSize": 9, "fontWeight": "bold", "color": "#222"},
    "encoding": {"x": {"datum": 14.245, "type": "quantitative", "axis": null}, "y": {"datum": 11.5, "type": "quantitative"}}}
  ]
 },
 {
  "width": 486, "height": 104,
  "resolve": {"axis": {"x": "independent"}},
  "layer": [
   {"data": {"name": "one"}, "mark": {"type": "rect", "fill": "#ffff00", "stroke": "#333", "strokeWidth": 1},
    "encoding": {"x": {"datum": 13.4, "type": "quantitative", "axis": {"orient": "top", "title": null, "labels": false, "grid": true, "values": [12.5,12.6,12.7,12.8,12.9,13,13.1,13.2,13.3,13.4,13.5,13.6,13.7,13.8,13.9,14,14.1,14.2,14.3,14.4,14.5]}}, "x2": {"datum": 13.5}}},
   {"data": {"name": "c"},
    "mark": {"type": "line", "strokeWidth": 1, "clip": true},
    "encoding": {
     "x": {"field": "t", "type": "quantitative", "scale": {"domain": [12.492, 14.505], "nice": false, "zero": false},
       "axis": {"title": null, "grid": false, "values": [12.5,13,13.5,14],
         "labelExpr": "datum.value == 13 ? '01:20:13.0' : datum.value == 14 ? '01:20:14.0' : '0.5'"}},
     "y": {"field": "v", "type": "quantitative", "scale": {"domain": [-0.02, 0.02], "nice": false, "zero": false},
       "axis": {"title": "[nT]", "titleX": -39, "titleY": 54, "titleBaseline": "middle", "titleAngle": 270, "grid": true, "values": [-0.02,-0.01,0,0.01,0.02], "labelExpr": "'' + datum.value"}},
     "color": {"field": "s", "type": "nominal", "scale": {"domain": ["x","y","z"], "range": ["#f04848","#40e040","#4040e8"]}, "legend": null}
    }},
   {"data": {"name": "one"}, "mark": {"type": "text", "text": "C", "align": "left", "baseline": "alphabetic", "fontSize": 15, "fontWeight": "bold", "color": "#222"},
    "encoding": {"x": {"datum": 12.529, "type": "quantitative", "axis": null}, "y": {"datum": 0.011, "type": "quantitative"}}},
   {"data": {"name": "one"}, "mark": {"type": "text", "text": "STAFF δBx r, δBy g, δBz b", "align": "left", "baseline": "alphabetic", "fontSize": 15, "fontWeight": "bold", "color": "#222"},
    "encoding": {"x": {"datum": 13.702, "type": "quantitative", "axis": null}, "y": {"datum": 0.0118, "type": "quantitative"}}}
  ]
 },
 {
  "width": 486, "height": 104,
  "layer": [
   {"data": {"name": "d"},
    "mark": {"type": "line", "strokeWidth": 1, "clip": true},
    "encoding": {
     "x": {"field": "f", "type": "quantitative", "scale": {"type": "log", "domain": [10, 200], "nice": false},
       "axis": {"title": null, "grid": true, "labelOverlap": false, "values": [10,20,30,40,50,60,70,80,90,100,200],
         "labelExpr": "datum.value == 10 ? '10¹' : datum.value == 100 ? '10²' : ''"}},
     "y": {"field": "v", "type": "quantitative", "scale": {"type": "log", "domain": [0.2, 2], "nice": false},
       "axis": {"title": "[(mV/m)²/Hz]", "titleX": -37, "titleY": 56, "titleBaseline": "middle", "titleAngle": 270, "grid": true, "values": [1], "labelExpr": "'10⁰'"}},
     "color": {"field": "s", "type": "nominal", "scale": {"domain": ["a","b"], "range": ["#4040e8","#40e040"]}, "legend": null}
    }},
   {"data": {"name": "one"}, "mark": {"type": "text", "text": "D", "align": "left", "baseline": "alphabetic", "fontSize": 15, "fontWeight": "bold", "color": "#222"},
    "encoding": {"x": {"datum": 10.63, "type": "quantitative"}, "y": {"datum": 1.2, "type": "quantitative"}}},
   {"data": {"name": "one"}, "mark": {"type": "text", "text": "PSD(δE", "align": "left", "baseline": "alphabetic", "fontSize": 15, "fontWeight": "bold", "color": "#222"},
    "encoding": {"x": {"datum": 70.2, "type": "quantitative"}, "y": {"datum": 1.37, "type": "quantitative"}}},
   {"data": {"name": "one"}, "mark": {"type": "text", "text": "⊥", "align": "left", "baseline": "alphabetic", "fontSize": 10, "fontWeight": "bold", "color": "#222"},
    "encoding": {"x": {"datum": 99.7, "type": "quantitative"}, "y": {"datum": 1.12, "type": "quantitative"}}},
   {"data": {"name": "one"}, "mark": {"type": "text", "text": ") & PSD(δE", "align": "left", "baseline": "alphabetic", "fontSize": 15, "fontWeight": "bold", "color": "#222"},
    "encoding": {"x": {"datum": 104.1, "type": "quantitative"}, "y": {"datum": 1.37, "type": "quantitative"}}},
   {"data": {"name": "one"}, "mark": {"type": "text", "text": "II", "align": "left", "baseline": "alphabetic", "fontSize": 9, "fontWeight": "bold", "color": "#222"},
    "encoding": {"x": {"datum": 171.5, "type": "quantitative"}, "y": {"datum": 1.15, "type": "quantitative"}}},
   {"data": {"name": "one"}, "mark": {"type": "text", "text": ")", "align": "left", "baseline": "alphabetic", "fontSize": 15, "fontWeight": "bold", "color": "#222"},
    "encoding": {"x": {"datum": 180.2, "type": "quantitative"}, "y": {"datum": 1.37, "type": "quantitative"}}},
   {"data": {"name": "one"}, "mark": {"type": "text", "text": "#fft=512", "align": "left", "baseline": "alphabetic", "fontSize": 8.5, "color": "#444"},
    "encoding": {"x": {"datum": 10.31, "type": "quantitative"}, "y": {"datum": 0.34, "type": "quantitative"}}},
   {"data": {"name": "one"}, "mark": {"type": "text", "text": "#avg=3", "align": "left", "baseline": "alphabetic", "fontSize": 8.5, "color": "#444"},
    "encoding": {"x": {"datum": 10.31, "type": "quantitative"}, "y": {"datum": 0.273, "type": "quantitative"}}}
  ]
 },
 {
  "width": 486, "height": 104,
  "layer": [
   {"data": {"name": "e"},
    "mark": {"type": "line", "color": "#4040e8", "strokeWidth": 1, "clip": true},
    "encoding": {
     "x": {"field": "f", "type": "quantitative", "scale": {"type": "log", "domain": [10, 200], "nice": false},
       "axis": {"title": null, "grid": true, "labelOverlap": false, "labelPadding": 9, "values": [10,20,30,40,50,60,70,80,90,100,200],
         "labelExpr": "datum.value == 10 ? '10¹' : datum.value == 100 ? '10²' : ''"}},
     "y": {"field": "v", "type": "quantitative", "scale": {"type": "log", "domain": [0.1, 10], "nice": false},
       "axis": {"title": null, "grid": true, "values": [0.1,0.2,0.3,0.4,0.5,0.6,0.7,0.8,0.9,1,2,3,4,5,6,7,8,9,10],
         "labelExpr": "datum.value == 0.1 ? '10⁻¹' : datum.value == 1 ? '10⁰' : datum.value == 10 ? '10¹' : ''"}}
    }},
   {"data": {"name": "one"}, "mark": {"type": "rule", "color": "#333", "strokeWidth": 1.2},
    "encoding": {"y": {"datum": 1, "type": "quantitative"}}},
   {"data": {"name": "one"}, "mark": {"type": "text", "text": "E", "align": "left", "baseline": "alphabetic", "fontSize": 15, "fontWeight": "bold", "color": "#222"},
    "encoding": {"x": {"datum": 10.63, "type": "quantitative"}, "y": {"datum": 3.6, "type": "quantitative"}}},
   {"data": {"name": "one"}, "mark": {"type": "text", "text": "δE", "align": "left", "baseline": "alphabetic", "fontSize": 15, "fontWeight": "bold", "color": "#222"},
    "encoding": {"x": {"datum": 130, "type": "quantitative"}, "y": {"datum": 3.94, "type": "quantitative"}}},
   {"data": {"name": "one"}, "mark": {"type": "text", "text": "II", "align": "left", "baseline": "alphabetic", "fontSize": 9, "fontWeight": "bold", "color": "#222"},
    "encoding": {"x": {"datum": 145.2, "type": "quantitative"}, "y": {"datum": 3.0, "type": "quantitative"}}},
   {"data": {"name": "one"}, "mark": {"type": "text", "text": "/δE", "align": "left", "baseline": "alphabetic", "fontSize": 15, "fontWeight": "bold", "color": "#222"},
    "encoding": {"x": {"datum": 151.6, "type": "quantitative"}, "y": {"datum": 3.94, "type": "quantitative"}}},
   {"data": {"name": "one"}, "mark": {"type": "text", "text": "⊥", "align": "left", "baseline": "alphabetic", "fontSize": 10, "fontWeight": "bold", "color": "#222"},
    "encoding": {"x": {"datum": 174.7, "type": "quantitative"}, "y": {"datum": 3.16, "type": "quantitative"}}},
   {"data": {"name": "one"}, "mark": {"type": "text", "text": "#fft=512", "align": "left", "baseline": "alphabetic", "fontSize": 8.5, "color": "#444"},
    "encoding": {"x": {"datum": 10.31, "type": "quantitative"}, "y": {"datum": 0.277, "type": "quantitative"}}},
   {"data": {"name": "one"}, "mark": {"type": "text", "text": "#avg=3", "align": "left", "baseline": "alphabetic", "fontSize": 8.5, "color": "#444"},
    "encoding": {"x": {"datum": 10.31, "type": "quantitative"}, "y": {"datum": 0.178, "type": "quantitative"}}}
  ]
 }
]
}
